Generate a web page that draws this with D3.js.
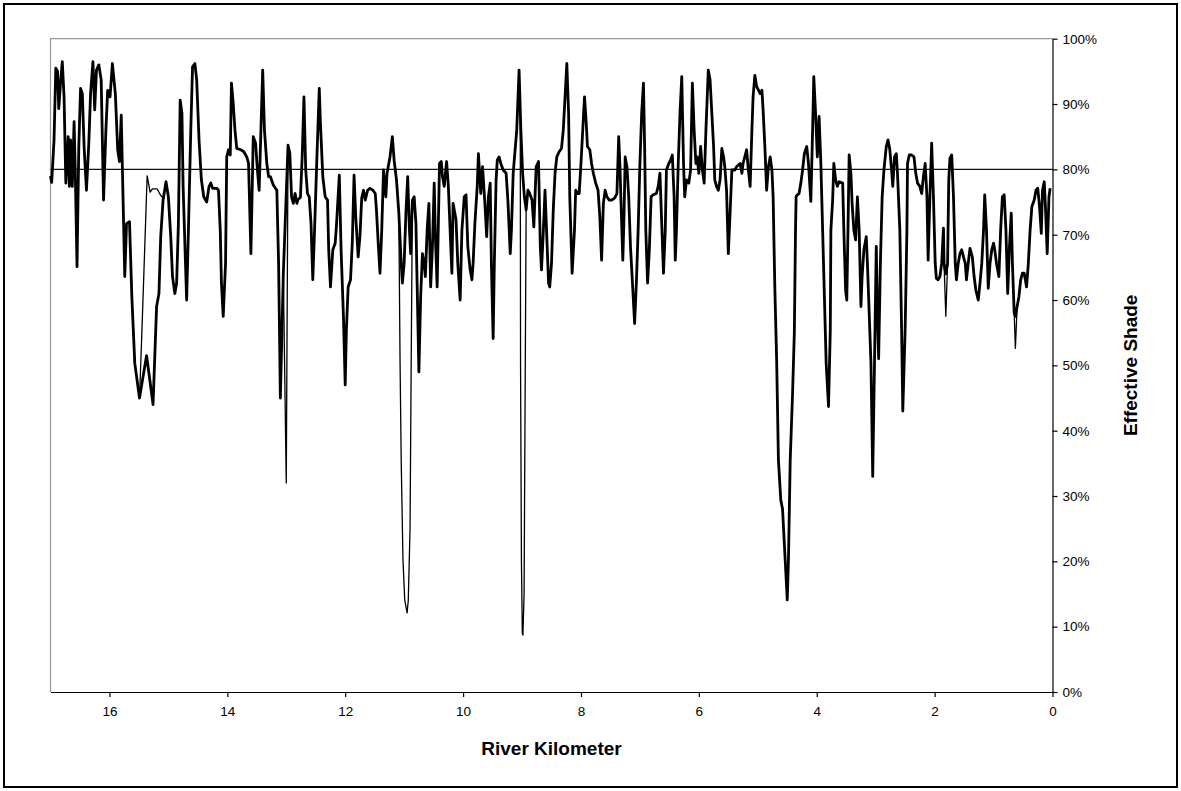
<!DOCTYPE html>
<html>
<head>
<meta charset="utf-8">
<script src="https://cdn.jsdelivr.net/npm/d3@7"></script>
<style>
    body { margin: 0; background: #fff; }
    svg { display: block; font-family: "Liberation Sans", Arial, sans-serif; }
</style>
</head>
<body>
<svg id="chart" width="1181" height="791"></svg>
<script>
// river kilometer / effective shade (%) - main group of scenarios
const km = [17.00, 16.98, 16.94, 16.91, 16.88, 16.86, 16.83, 16.80, 16.77, 16.74, 16.70, 16.68, 16.66, 16.63, 16.60, 16.58, 16.55, 16.52, 16.49, 16.46,
    16.43, 16.39, 16.35, 16.32, 16.28, 16.25, 16.22, 16.18, 16.14, 16.10, 16.06, 16.03, 15.99, 15.95, 15.90, 15.86, 15.83, 15.80, 15.74, 15.71,
    15.66, 15.62, 15.57, 15.49, 15.37, 15.26, 15.20, 15.16, 15.13, 15.09, 15.04, 15.00, 14.96, 14.93, 14.89, 14.86, 14.83, 14.80, 14.77, 14.75,
    14.71, 14.69, 14.66, 14.62, 14.59, 14.55, 14.52, 14.48, 14.44, 14.40, 14.35, 14.31, 14.28, 14.25, 14.18, 14.15, 14.12, 14.10, 14.07, 14.03,
    14.01, 13.98, 13.95, 13.93, 13.90, 13.87, 13.84, 13.77, 13.72, 13.67, 13.64, 13.60, 13.56, 13.52, 13.49, 13.46, 13.43, 13.40, 13.37, 13.33,
    13.30, 13.27, 13.22, 13.16, 13.13, 13.10, 13.05, 12.97, 12.94, 12.91, 12.88, 12.85, 12.82, 12.80, 12.76, 12.73, 12.70, 12.67, 12.64, 12.61,
    12.58, 12.55, 12.52, 12.48, 12.44, 12.42, 12.38, 12.34, 12.30, 12.28, 12.25, 12.21, 12.17, 12.15, 12.10, 12.07, 12.03, 12.00, 11.98, 11.95,
    11.91, 11.88, 11.85, 11.82, 11.78, 11.75, 11.72, 11.69, 11.66, 11.62, 11.58, 11.53, 11.49, 11.47, 11.44, 11.41, 11.38, 11.35, 11.31, 11.29,
    11.24, 11.20, 11.17, 11.13, 11.09, 11.05, 11.03, 11.00, 10.97, 10.94, 10.91, 10.89, 10.86, 10.83, 10.80, 10.78, 10.75, 10.72, 10.69, 10.66,
    10.64, 10.61, 10.58, 10.55, 10.52, 10.49, 10.47, 10.44, 10.40, 10.37, 10.35, 10.32, 10.28, 10.25, 10.22, 10.19, 10.17, 10.12, 10.09, 10.05,
    10.02, 9.98, 9.95, 9.92, 9.88, 9.85, 9.83, 9.80, 9.76, 9.74, 9.70, 9.67, 9.63, 9.60, 9.57, 9.54, 9.52, 9.49, 9.47, 9.44,
    9.42, 9.39, 9.36, 9.32, 9.27, 9.24, 9.20, 9.18, 9.15, 9.09, 9.05, 9.02, 8.99, 8.96, 8.93, 8.90, 8.87, 8.83, 8.80, 8.76,
    8.72, 8.69, 8.67, 8.64, 8.61, 8.58, 8.55, 8.53, 8.50, 8.47, 8.44, 8.41, 8.37, 8.33, 8.30, 8.27, 8.24, 8.21, 8.19, 8.15,
    8.11, 8.09, 8.06, 8.03, 8.00, 7.97, 7.94, 7.91, 7.89, 7.85, 7.82, 7.79, 7.75, 7.71, 7.68, 7.65, 7.62, 7.59, 7.56, 7.52,
    7.48, 7.43, 7.39, 7.36, 7.34, 7.32, 7.29, 7.27, 7.25, 7.22, 7.19, 7.16, 7.12, 7.09, 7.06, 7.03, 7.00, 6.97, 6.94, 6.92,
    6.90, 6.87, 6.84, 6.81, 6.78, 6.72, 6.69, 6.66, 6.63, 6.60, 6.57, 6.55, 6.51, 6.48, 6.45, 6.42, 6.40, 6.38, 6.35, 6.32,
    6.29, 6.26, 6.24, 6.21, 6.17, 6.14, 6.11, 6.08, 6.05, 6.03, 6.00, 5.97, 5.94, 5.91, 5.88, 5.84, 5.81, 5.78, 5.75, 5.73,
    5.70, 5.67, 5.64, 5.61, 5.58, 5.56, 5.53, 5.50, 5.47, 5.44, 5.39, 5.36, 5.30, 5.27, 5.25, 5.19, 5.16, 5.13, 5.10, 5.08,
    5.05, 5.02, 4.96, 4.93, 4.91, 4.88, 4.85, 4.82, 4.79, 4.76, 4.74, 4.71, 4.68, 4.65, 4.61, 4.58, 4.50, 4.48, 4.45, 4.41,
    4.38, 4.36, 4.35, 4.33, 4.30, 4.27, 4.24, 4.21, 4.17, 4.14, 4.10, 4.07, 4.05, 4.02, 3.99, 3.96, 3.93, 3.90, 3.87, 3.84,
    3.80, 3.77, 3.76, 3.73, 3.71, 3.68, 3.65, 3.62, 3.56, 3.54, 3.51, 3.49, 3.47, 3.45, 3.42, 3.40, 3.37, 3.34, 3.31, 3.28,
    3.25, 3.23, 3.20, 3.16, 3.14, 3.11, 3.08, 3.05, 3.02, 2.99, 2.97, 2.95, 2.92, 2.89, 2.86, 2.82, 2.79, 2.76, 2.73, 2.71,
    2.68, 2.65, 2.63, 2.59, 2.56, 2.54, 2.50, 2.47, 2.46, 2.43, 2.39, 2.35, 2.32, 2.29, 2.25, 2.22, 2.19, 2.16, 2.13, 2.11,
    2.08, 2.05, 2.02, 1.99, 1.97, 1.94, 1.91, 1.88, 1.85, 1.84, 1.81, 1.78, 1.76, 1.74, 1.71, 1.68, 1.65, 1.63, 1.60, 1.57,
    1.54, 1.51, 1.48, 1.46, 1.43, 1.40, 1.36, 1.33, 1.30, 1.26, 1.23, 1.20, 1.17, 1.15, 1.12, 1.09, 1.06, 1.03, 1.00, 0.98,
    0.95, 0.91, 0.88, 0.85, 0.82, 0.79, 0.76, 0.73, 0.70, 0.68, 0.65, 0.63, 0.60, 0.57, 0.54, 0.51, 0.48, 0.44, 0.41, 0.38,
    0.35, 0.31, 0.28, 0.25, 0.22, 0.19, 0.17, 0.14, 0.12, 0.09, 0.06, 0.04]
const shade = [79, 78, 84.5, 95.5, 95, 89.3, 93.2, 96.5, 91.1, 77.9, 85, 77.4, 84.5, 77.4, 87.3, 79.9, 65.1, 83.5, 92.4, 91.6,
    83.5, 76.8, 84, 91.6, 96.5, 89.1, 95.2, 96, 93.7, 75.3, 86, 92.1, 91.1, 96.2, 91.6, 83, 81.2, 88.3, 63.6, 71.7,
    72, 60.5, 50.3, 45, 51.5, 44, 59, 61, 69.7, 75.3, 78.1, 75.8, 69.7, 63.6, 61, 62.6, 71.7, 90.6, 88.6, 77.4,
    65.6, 60, 70.7, 86, 95.7, 96.2, 93.7, 84.5, 78.4, 75.8, 75, 77.4, 77.9, 77.1, 77.1, 76.8, 70.7, 62.6, 57.5, 65.6,
    81.9, 83, 82.2, 93.2, 90.1, 86, 83.2, 83, 82.7, 81.9, 80.9, 67.1, 85, 84, 79.9, 76.8, 86, 95.2, 86, 80.9,
    78.9, 78.9, 77.6, 76.8, 65.6, 45, 64, 83.7, 82.5, 75.8, 74.8, 76.3, 74.8, 75.4, 75.7, 81.9, 91.1, 79.9, 76.3, 75.8,
    71.7, 63.1, 70.7, 81.9, 92.4, 87, 78.9, 75.8, 75.3, 67.7, 62, 67.7, 68.7, 71.2, 79.1, 67.7, 57.5, 47, 55.4, 62,
    63.1, 68.7, 79.1, 72.6, 66.6, 69.7, 75.6, 76.8, 75.3, 76.8, 77.1, 76.8, 76.3, 73.8, 68.7, 64.1, 70.7, 79.9, 75.8, 79.4,
    81.9, 85, 81.4, 78.4, 73.3, 65.6, 62.6, 65.6, 73.3, 78.9, 70.7, 67.1, 75.3, 75.8, 71.7, 62.6, 49, 60.5, 67.1, 65.6,
    63.6, 70.7, 74.8, 62, 68.2, 77.9, 69.7, 62, 80.9, 81.2, 78.9, 77.4, 81.2, 77.4, 70.7, 64.1, 74.8, 72.3, 65.6, 60,
    70.7, 75.8, 76.1, 68.2, 64.6, 63.1, 65.6, 71.7, 77.4, 82.4, 76.3, 80.4, 74.8, 69.7, 75.8, 77.9, 65.6, 54.1, 65.6, 78.4,
    81.4, 81.9, 80.9, 79.9, 79.4, 75.3, 67.1, 70.7, 79.4, 86, 95.2, 86, 79.4, 75.8, 73.8, 76.8, 76.3, 75.3, 71.2, 80.4,
    81.2, 68.2, 64.6, 70.2, 76.8, 69.7, 62.6, 62, 65.6, 73.8, 79.4, 81.9, 82.7, 83.2, 86, 91.1, 96.2, 88.6, 75.8, 64.1,
    70.7, 76.8, 76.3, 76.3, 80.9, 86, 91.1, 87, 83.5, 83, 80.9, 79.4, 77.9, 76.8, 72.7, 66.1, 74.8, 76.8, 75.8, 75.3,
    75.3, 75.6, 76.3, 85, 80.9, 74.8, 66.1, 72.7, 81.9, 80.4, 75.8, 68.2, 61.5, 56.4, 62.6, 70.7, 80.9, 88.6, 93.2, 83.5,
    70.7, 62.6, 67.7, 75.8, 76.1, 76.3, 77.4, 79.4, 71.7, 64.1, 70.7, 79.9, 80.9, 81.4, 82.2, 75.8, 66.1, 70.7, 80.9, 88.6,
    94.2, 80.9, 75.8, 78.4, 77.9, 79.9, 93.2, 86, 80.9, 81.9, 79.4, 83.5, 79.9, 77.9, 86, 95.2, 93.7, 88.6, 83.5, 78.4,
    77.4, 76.8, 78.4, 83.2, 81.9, 80.4, 76.8, 67.1, 73.3, 79.9, 79.9, 80.4, 80.9, 79.4, 80.9, 83, 79.9, 77.4, 86, 91.1,
    94.4, 92.7, 91.6, 92.1, 89.1, 83.5, 76.8, 80.4, 81.9, 79.9, 75.8, 61.5, 50.8, 35.5, 29.4, 28, 14.1, 20.2, 35.5, 45.7,
    55, 70.7, 75.8, 76.1, 76.3, 77.9, 79.9, 82.4, 83.5, 80.9, 75.1, 86, 94.2, 88.6, 81.9, 88.1, 80.9, 70.7, 60.5, 50.3,
    43.7, 55.4, 70.7, 75.3, 80.9, 78.4, 77.4, 78.1, 77.9, 70.7, 61.5, 60, 70.7, 82.2, 79.4, 74.8, 70.7, 69.2, 75.8, 70.7,
    59, 63.6, 67.7, 69.7, 65.6, 58, 50.3, 33, 50.3, 68.2, 58, 51, 65.6, 75.8, 79.9, 83.5, 84.5, 83, 79.9, 77.4,
    81.9, 82.4, 79.4, 70.7, 55.4, 43, 55.4, 70.7, 80.9, 82.2, 82.2, 81.9, 79.4, 77.9, 77.4, 76.3, 78.9, 80.9, 75.8, 66.1,
    75.8, 84, 75.8, 65.6, 63.3, 63.1, 63.6, 65.6, 71, 65.6, 64, 65.6, 78.4, 81.7, 82.2, 75.8, 65.6, 63.1, 65.6, 67.1,
    67.7, 66.6, 65.6, 63.1, 65.6, 67.9, 66.6, 63.6, 61.5, 60, 62.6, 65.6, 70.7, 76.1, 70.7, 61.8, 65.6, 67.7, 68.7, 67.7,
    65.6, 63.6, 70.7, 75.8, 76.1, 70.7, 61, 68.2, 73.3, 65.6, 58, 57.5, 59, 60.5, 63.1, 64.1, 64.1, 62, 65.6, 70.7,
    74.3, 75.3, 76.8, 77.1, 74.3, 70.2, 76.8, 78.1, 74.3, 67.1, 75.8, 77.1]

// one scenario that leaves the main group in a few reaches
const alt1Km = [15.49, 15.45, 15.36, 15.31, 15.27, 15.19, 15.13, 15.07]
const alt1Shade = [45, 55, 79, 76.5, 77, 77, 76, 75.5]
const alt2Km = [13.05, 13.00, 12.97]
const alt2Shade = [64, 32, 83.7]
const alt3Km = [11.09, 11.07, 11.05, 11.02, 10.99, 10.95, 10.93, 10.90, 10.88, 10.86]
const alt3Shade = [73, 51, 35.5, 20.2, 14.1, 12.1, 14, 25, 51, 75.3]
const alt4Km = [9.03, 9.025, 9.01, 8.995, 8.985, 8.965, 8.945, 8.93]
const alt4Shade = [88, 50, 20, 9, 8.7, 15, 50, 73.8]
const alt5Km = [1.84, 1.81, 1.78]
const alt5Shade = [65.6, 57.5, 65.6]
const alt6Km = [0.65, 0.63, 0.60]
const alt6Shade = [58, 52.6, 59]

const targetShade = 80
const kmTicks = [16, 14, 12, 10, 8, 6, 4, 2, 0]
const shadeTicks = [0, 10, 20, 30, 40, 50, 60, 70, 80, 90, 100]

const svg = d3.select('#chart')
const plotLeft = 50.5, plotRight = 1052.5, plotTop = 38.7, plotBottom = 692

const x = d3.scaleLinear().domain([17, 0]).range([plotLeft, plotRight])
const y = d3.scaleLinear().domain([0, 100]).range([plotBottom, plotTop])

// outer frame
svg.append('rect')
    .attr('x', 4).attr('y', 4).attr('width', 1173).attr('height', 783)
    .attr('fill', '#fff').attr('stroke', '#000').attr('stroke-width', 2)

// plot area border (top / left in grey)
svg.append('path')
    .attr('d', `M${plotLeft},${plotBottom}V${plotTop}H${plotRight}`)
    .attr('fill', 'none').attr('stroke', '#999').attr('stroke-width', 1.2)

// target line
svg.append('line')
    .attr('x1', plotLeft).attr('x2', plotRight)
    .attr('y1', y(targetShade)).attr('y2', y(targetShade))
    .attr('stroke', '#111').attr('stroke-width', 1.2)

const line = d3.line()
    .x(d => x(d[0]))
    .y(d => y(d[1]))

const mainData = km.map((k, i) => [k, shade[i]])
svg.append('path')
    .datum(mainData)
    .attr('d', line)
    .attr('fill', 'none')
    .attr('stroke', '#000')
    .attr('stroke-width', 2.8)
    .attr('stroke-linejoin', 'round')

const altSegments = [
    [alt1Km, alt1Shade], [alt2Km, alt2Shade], [alt3Km, alt3Shade],
    [alt4Km, alt4Shade], [alt5Km, alt5Shade], [alt6Km, alt6Shade]
]
altSegments.forEach(seg => {
    svg.append('path')
        .datum(seg[0].map((k, i) => [k, seg[1][i]]))
        .attr('d', line)
        .attr('fill', 'none')
        .attr('stroke', '#000')
        .attr('stroke-width', 1.3)
        .attr('stroke-linejoin', 'round')
})

// axes
const xAxis = d3.axisBottom(x)
    .tickValues(kmTicks)
    .tickFormat(d3.format('d'))
    .tickSize(5)
    .tickSizeOuter(0)
    .tickPadding(9)
const gx = svg.append('g')
    .attr('transform', `translate(0,${plotBottom})`)
    .call(xAxis)
gx.selectAll('text').attr('font-size', 13.5).attr('fill', '#000')
    .attr('font-family', '"Liberation Sans", Arial, sans-serif')
gx.selectAll('line, path').attr('stroke', '#000').attr('stroke-width', 1.2)

const yAxis = d3.axisRight(y)
    .tickValues(shadeTicks)
    .tickFormat(d => d + '%')
    .tickSize(5)
    .tickSizeOuter(0)
    .tickPadding(5)
const gy = svg.append('g')
    .attr('transform', `translate(${plotRight},0)`)
    .call(yAxis)
gy.selectAll('text').attr('font-size', 13.5).attr('fill', '#000')
    .attr('font-family', '"Liberation Sans", Arial, sans-serif')
gy.selectAll('line, path').attr('stroke', '#000').attr('stroke-width', 1.2)

// axis titles
svg.append('text')
    .attr('x', (plotLeft + plotRight) / 2).attr('y', 755)
    .attr('text-anchor', 'middle')
    .attr('font-size', 19).attr('font-weight', 'bold')
    .text('River Kilometer')

svg.append('text')
    .attr('transform', `translate(1137,${(plotTop + plotBottom) / 2}) rotate(-90)`)
    .attr('text-anchor', 'middle')
    .attr('font-size', 19).attr('font-weight', 'bold')
    .text('Effective Shade')
</script>
</body>
</html>
